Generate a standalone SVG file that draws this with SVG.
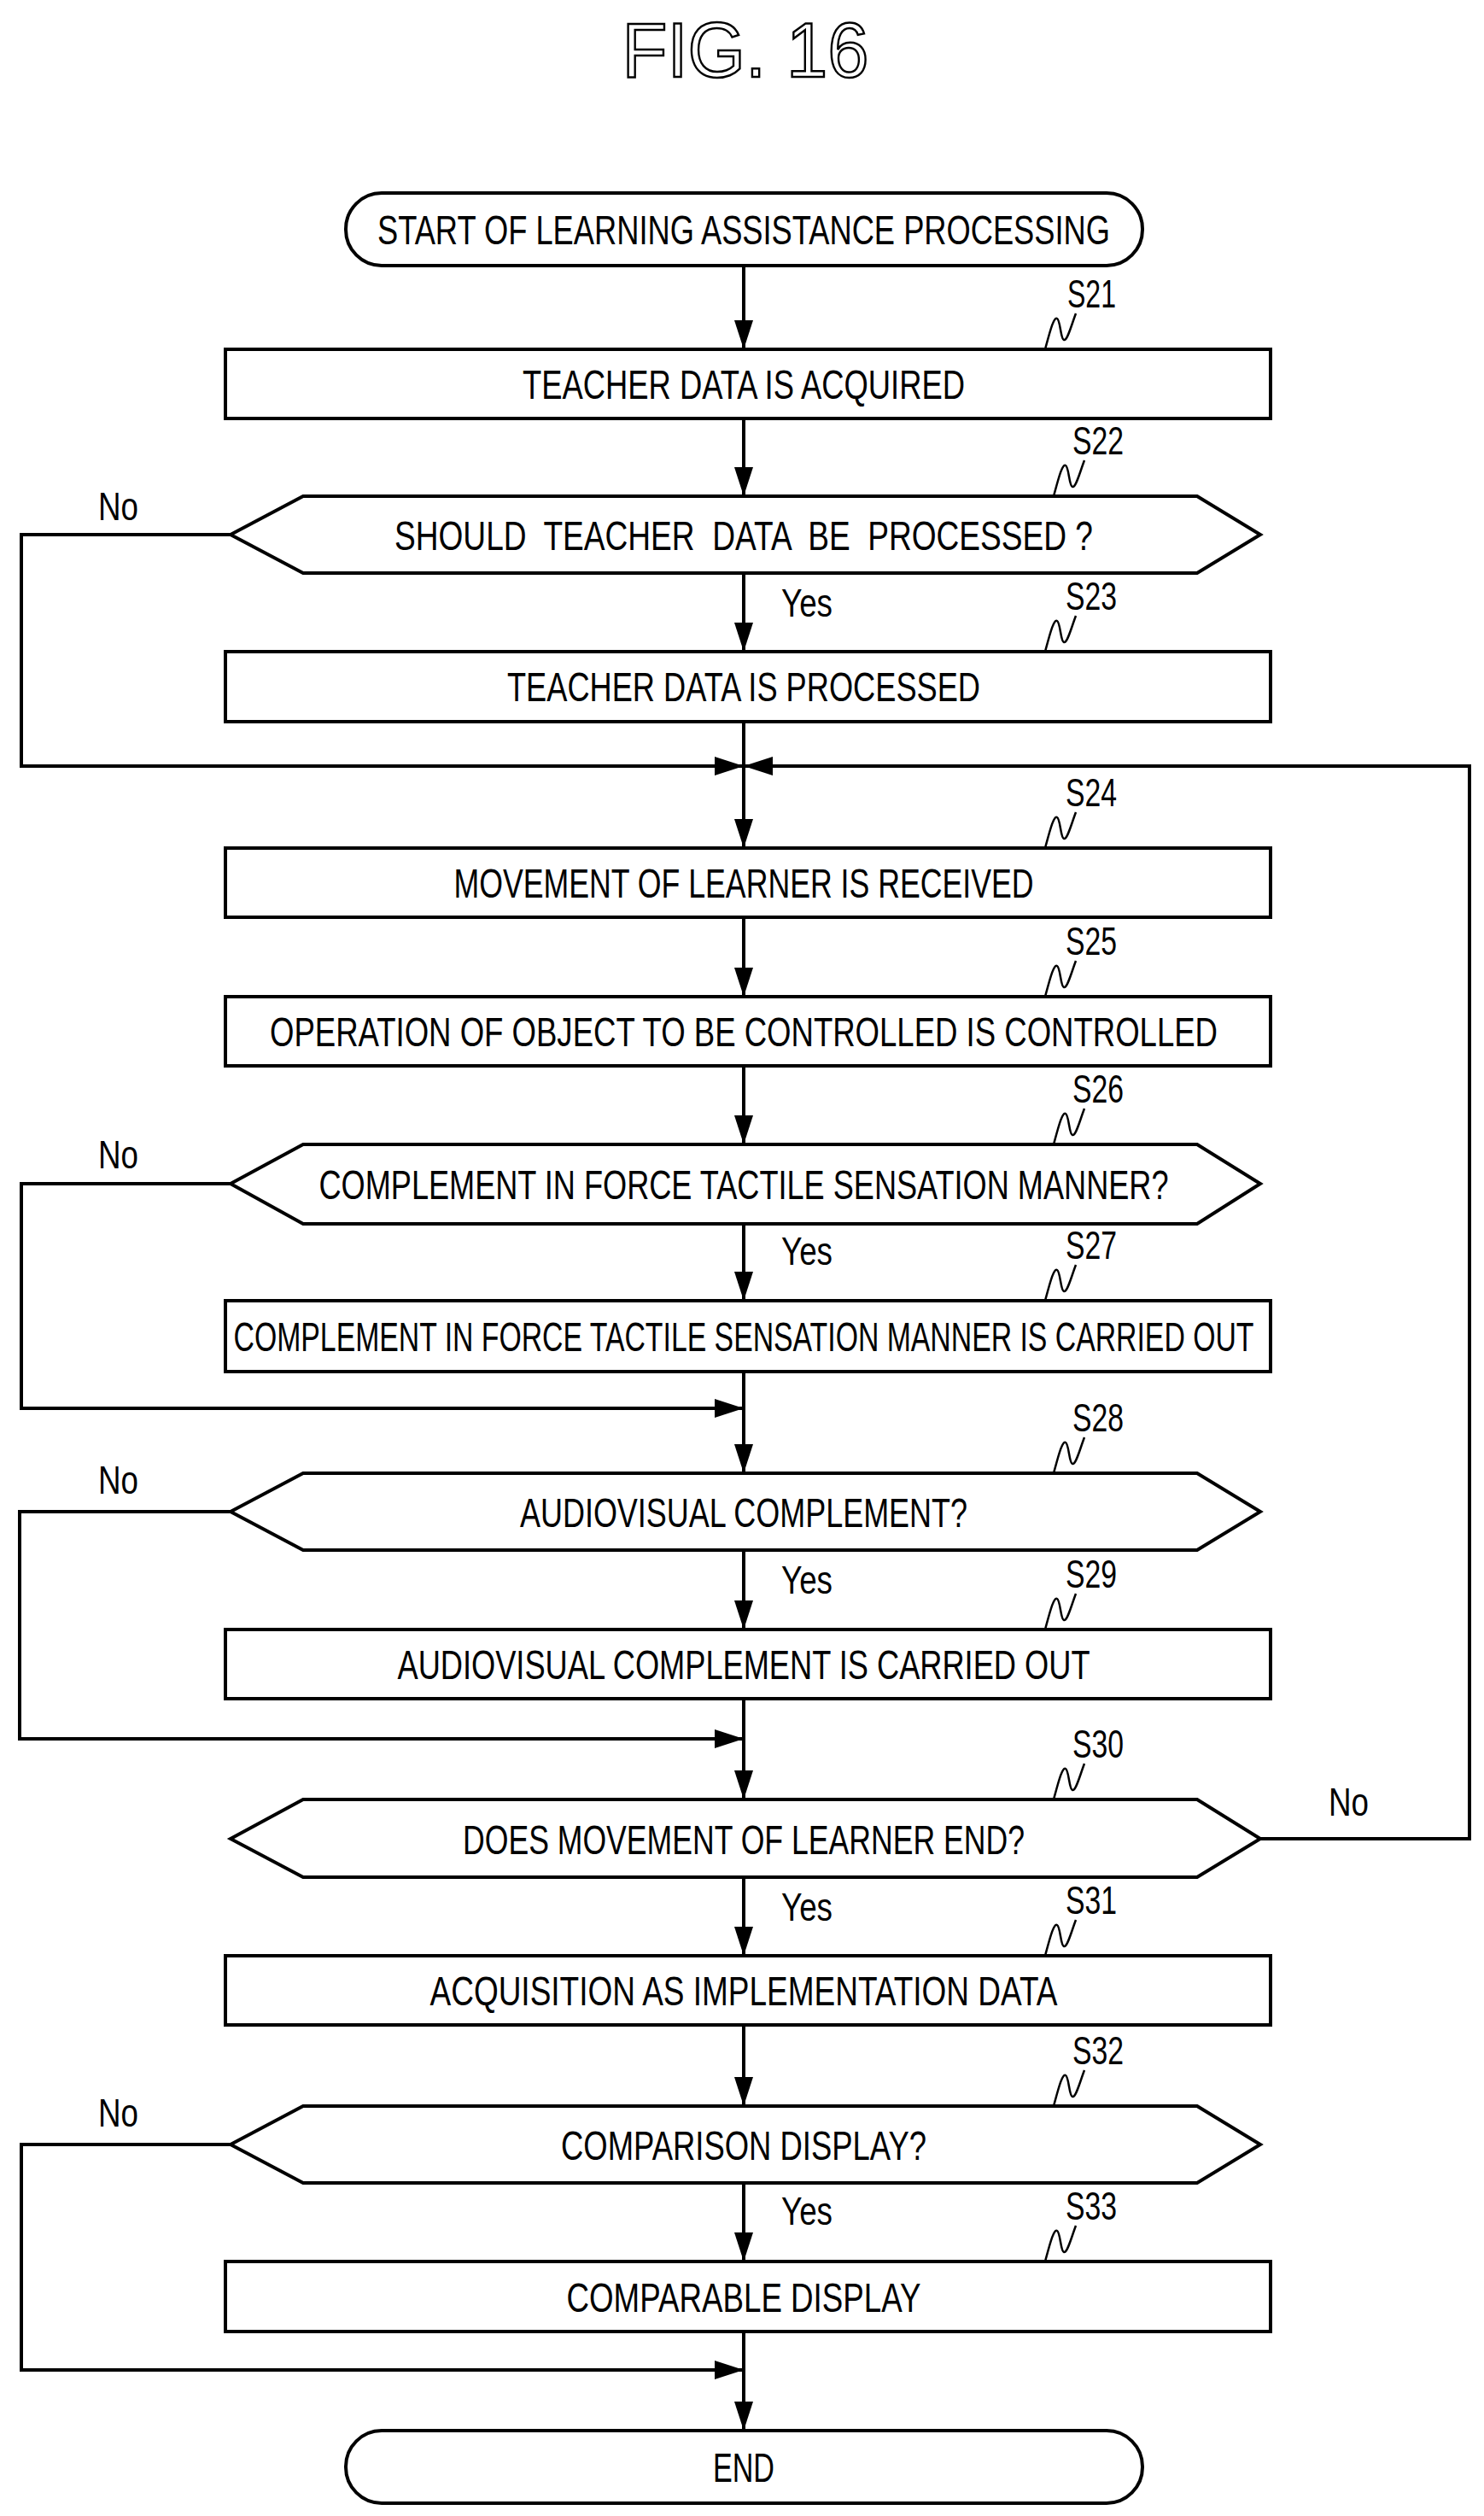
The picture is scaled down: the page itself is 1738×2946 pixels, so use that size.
<svg xmlns="http://www.w3.org/2000/svg" width="1738" height="2946" viewBox="0 0 1738 2946">
<style>
.s{fill:#fff;stroke:#000;stroke-width:4}
.l{fill:none;stroke:#000;stroke-width:4}
.q{fill:none;stroke:#000;stroke-width:2.5}
text{font-family:"Liberation Sans",Arial,sans-serif;fill:#000}
.t{font-size:48px;text-anchor:middle}
.b{font-size:46px}
</style>
<defs>
<marker id="d" markerWidth="34" markerHeight="22" refX="34" refY="11" orient="auto" markerUnits="userSpaceOnUse"><path d="M0,0 L34,11 L0,22Z"/></marker>
<path id="sq" class="q" d="M0,0 C6,-22 10,-38 14,-36 C18,-34 18,-12 22,-11 C26,-10 30,-26 36,-42"/>
</defs>
<text x="873" y="90" font-size="90" text-anchor="middle" textLength="289" lengthAdjust="spacingAndGlyphs" style="fill:#fff;stroke:#000;stroke-width:2.5">FIG. 16</text>
<g id="connectors">
<path class="l" d="M871,311 V409" marker-end="url(#d)"/>
<path class="l" d="M871,490 V581" marker-end="url(#d)"/>
<path class="l" d="M871,671 V763" marker-end="url(#d)"/>
<path class="l" d="M871,845 V993" marker-end="url(#d)"/>
<path class="l" d="M270,626 H25 V897 H871" marker-end="url(#d)"/>
<path class="l" d="M1476,2153 H1721 V897 H871" marker-end="url(#d)"/>
<path class="l" d="M871,1074 V1167" marker-end="url(#d)"/>
<path class="l" d="M871,1248 V1340" marker-end="url(#d)"/>
<path class="l" d="M871,1433 V1523" marker-end="url(#d)"/>
<path class="l" d="M871,1606 V1725" marker-end="url(#d)"/>
<path class="l" d="M270,1386 H25 V1649 H871" marker-end="url(#d)"/>
<path class="l" d="M871,1815 V1908" marker-end="url(#d)"/>
<path class="l" d="M871,1989 V2107" marker-end="url(#d)"/>
<path class="l" d="M270,1770 H23 V2036 H871" marker-end="url(#d)"/>
<path class="l" d="M871,2198 V2290" marker-end="url(#d)"/>
<path class="l" d="M871,2371 V2466" marker-end="url(#d)"/>
<path class="l" d="M871,2556 V2648" marker-end="url(#d)"/>
<path class="l" d="M871,2730 V2846" marker-end="url(#d)"/>
<path class="l" d="M270,2511 H25 V2775 H871" marker-end="url(#d)"/>
<text class="b" x="115" y="609" textLength="47" lengthAdjust="spacingAndGlyphs">No</text>
<text class="b" x="915" y="722" textLength="60" lengthAdjust="spacingAndGlyphs">Yes</text>
<text class="b" x="115" y="1368" textLength="47" lengthAdjust="spacingAndGlyphs">No</text>
<text class="b" x="915" y="1481" textLength="60" lengthAdjust="spacingAndGlyphs">Yes</text>
<text class="b" x="115" y="1749" textLength="47" lengthAdjust="spacingAndGlyphs">No</text>
<text class="b" x="915" y="1866" textLength="60" lengthAdjust="spacingAndGlyphs">Yes</text>
<text class="b" x="1556" y="2126" textLength="47" lengthAdjust="spacingAndGlyphs">No</text>
<text class="b" x="915" y="2249" textLength="60" lengthAdjust="spacingAndGlyphs">Yes</text>
<text class="b" x="115" y="2490" textLength="47" lengthAdjust="spacingAndGlyphs">No</text>
<text class="b" x="915" y="2605" textLength="60" lengthAdjust="spacingAndGlyphs">Yes</text>
</g>
<g id="start"><rect class="s" x="405" y="226" width="933" height="85" rx="42"/><text class="t" x="871" y="286" textLength="858" lengthAdjust="spacingAndGlyphs">START OF LEARNING ASSISTANCE PROCESSING</text></g>
<g id="S21"><rect class="s" x="264" y="409" width="1224" height="81"/><text class="t" x="871" y="467" textLength="518" lengthAdjust="spacingAndGlyphs">TEACHER DATA IS ACQUIRED</text>
<use href="#sq" x="1224" y="409"/><text class="b" x="1250" y="360" textLength="57" lengthAdjust="spacingAndGlyphs">S21</text></g>
<g id="S22"><polygon class="s" points="270,626 355,581 1402,581 1476,626 1402,671 355,671"/><text class="t" x="871" y="644" textLength="818" lengthAdjust="spacingAndGlyphs" xml:space="preserve">SHOULD  TEACHER  DATA  BE  PROCESSED ?</text>
<use href="#sq" x="1234" y="581"/><text class="b" x="1256" y="532" textLength="60" lengthAdjust="spacingAndGlyphs">S22</text></g>
<g id="S23"><rect class="s" x="264" y="763" width="1224" height="82"/><text class="t" x="871" y="821" textLength="554" lengthAdjust="spacingAndGlyphs">TEACHER DATA IS PROCESSED</text>
<use href="#sq" x="1224" y="763"/><text class="b" x="1248" y="714" textLength="60" lengthAdjust="spacingAndGlyphs">S23</text></g>
<g id="S24"><rect class="s" x="264" y="993" width="1224" height="81"/><text class="t" x="871" y="1051" textLength="679" lengthAdjust="spacingAndGlyphs">MOVEMENT OF LEARNER IS RECEIVED</text>
<use href="#sq" x="1224" y="993"/><text class="b" x="1248" y="944" textLength="60" lengthAdjust="spacingAndGlyphs">S24</text></g>
<g id="S25"><rect class="s" x="264" y="1167" width="1224" height="81"/><text class="t" x="871" y="1225" textLength="1110" lengthAdjust="spacingAndGlyphs">OPERATION OF OBJECT TO BE CONTROLLED IS CONTROLLED</text>
<use href="#sq" x="1224" y="1167"/><text class="b" x="1248" y="1118" textLength="60" lengthAdjust="spacingAndGlyphs">S25</text></g>
<g id="S26"><polygon class="s" points="270,1386 355,1340 1402,1340 1476,1386 1402,1433 355,1433"/><text class="t" x="871" y="1404" textLength="995" lengthAdjust="spacingAndGlyphs">COMPLEMENT IN FORCE TACTILE SENSATION MANNER?</text>
<use href="#sq" x="1234" y="1340"/><text class="b" x="1256" y="1291" textLength="60" lengthAdjust="spacingAndGlyphs">S26</text></g>
<g id="S27"><rect class="s" x="264" y="1523" width="1224" height="83"/><text class="t" x="871" y="1582" textLength="1195" lengthAdjust="spacingAndGlyphs">COMPLEMENT IN FORCE TACTILE SENSATION MANNER IS CARRIED OUT</text>
<use href="#sq" x="1224" y="1523"/><text class="b" x="1248" y="1474" textLength="60" lengthAdjust="spacingAndGlyphs">S27</text></g>
<g id="S28"><polygon class="s" points="270,1770 355,1725 1402,1725 1476,1770 1402,1815 355,1815"/><text class="t" x="871" y="1788" textLength="524" lengthAdjust="spacingAndGlyphs">AUDIOVISUAL COMPLEMENT?</text>
<use href="#sq" x="1234" y="1725"/><text class="b" x="1256" y="1676" textLength="60" lengthAdjust="spacingAndGlyphs">S28</text></g>
<g id="S29"><rect class="s" x="264" y="1908" width="1224" height="81"/><text class="t" x="871" y="1966" textLength="811" lengthAdjust="spacingAndGlyphs">AUDIOVISUAL COMPLEMENT IS CARRIED OUT</text>
<use href="#sq" x="1224" y="1908"/><text class="b" x="1248" y="1859" textLength="60" lengthAdjust="spacingAndGlyphs">S29</text></g>
<g id="S30"><polygon class="s" points="270,2153 355,2107 1402,2107 1476,2153 1402,2198 355,2198"/><text class="t" x="871" y="2171" textLength="658" lengthAdjust="spacingAndGlyphs">DOES MOVEMENT OF LEARNER END?</text>
<use href="#sq" x="1234" y="2107"/><text class="b" x="1256" y="2058" textLength="60" lengthAdjust="spacingAndGlyphs">S30</text></g>
<g id="S31"><rect class="s" x="264" y="2290" width="1224" height="81"/><text class="t" x="871" y="2348" textLength="735" lengthAdjust="spacingAndGlyphs">ACQUISITION AS IMPLEMENTATION DATA</text>
<use href="#sq" x="1224" y="2290"/><text class="b" x="1248" y="2241" textLength="60" lengthAdjust="spacingAndGlyphs">S31</text></g>
<g id="S32"><polygon class="s" points="270,2511 355,2466 1402,2466 1476,2511 1402,2556 355,2556"/><text class="t" x="871" y="2529" textLength="428" lengthAdjust="spacingAndGlyphs">COMPARISON DISPLAY?</text>
<use href="#sq" x="1234" y="2466"/><text class="b" x="1256" y="2417" textLength="60" lengthAdjust="spacingAndGlyphs">S32</text></g>
<g id="S33"><rect class="s" x="264" y="2648" width="1224" height="82"/><text class="t" x="871" y="2707" textLength="415" lengthAdjust="spacingAndGlyphs">COMPARABLE DISPLAY</text>
<use href="#sq" x="1224" y="2648"/><text class="b" x="1248" y="2599" textLength="60" lengthAdjust="spacingAndGlyphs">S33</text></g>
<g id="end"><rect class="s" x="405" y="2846" width="933" height="85" rx="42"/><text class="t" x="871" y="2906" textLength="72" lengthAdjust="spacingAndGlyphs">END</text></g>
</svg>
